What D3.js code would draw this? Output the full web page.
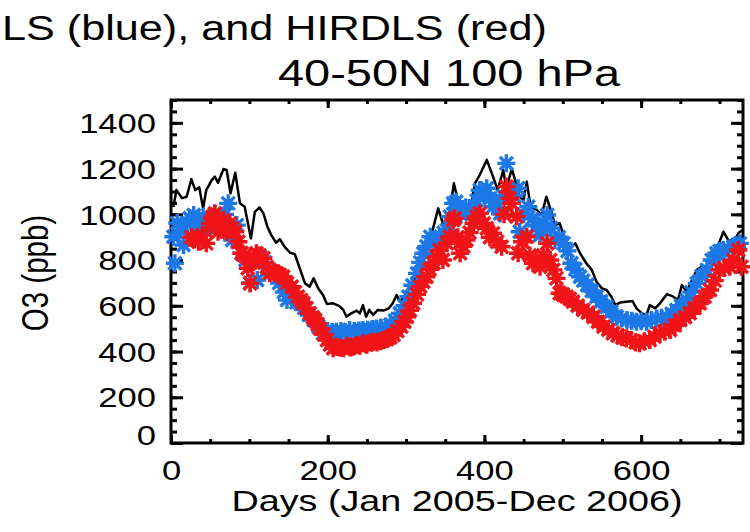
<!DOCTYPE html>
<html>
<head>
<meta charset="utf-8">
<script src="https://cdn.jsdelivr.net/npm/d3@7"></script>
<style>
  body { margin: 0; background: #fff; }
  text { font-family: "Liberation Sans", Arial, sans-serif; fill: #000; }
</style>
</head>
<body>
<div id="chart"></div>
<script>
/* O3 at 100 hPa, 40-50N: black line, MLS (blue), HIRDLS (red) */

const lineDays = [3, 7, 14, 20, 26, 31, 36, 41, 45, 52, 56, 60, 67, 71, 76, 82, 88, 94, 102, 107,
  113, 118, 123, 128, 134, 139, 145, 152, 158, 165, 171, 177, 182, 188, 194, 199, 207, 215, 220, 224,
  230, 237, 241, 245, 249, 253, 258, 264, 271, 278, 283, 288, 292, 298, 305, 310, 317, 322, 326, 331,
  335, 341, 347, 353, 355, 361, 366, 375, 383, 388, 394, 403, 411, 417, 424, 428, 435, 445, 450, 454,
  459, 467, 473, 479, 486, 490, 496, 503, 509, 516, 522, 530, 537, 543, 550, 556, 562, 567, 573, 581,
  589, 594, 601, 607, 611, 618, 624, 633, 641, 647, 652, 658, 664, 671, 677, 684, 690, 696, 705, 711,
  718, 724, 729];
const lineO3 = [1032, 1106, 1071, 1077, 1154, 1106, 1118, 1026, 1106, 1150, 1165, 1138, 1198, 1194, 1092, 1182, 1048, 1033, 895, 1011,
  1030, 1004, 946, 909, 876, 891, 858, 832, 826, 757, 698, 684, 720, 676, 647, 608, 611, 599, 582, 552,
  567, 579, 567, 603, 552, 582, 560, 582, 579, 589, 611, 647, 618, 640, 691, 716, 735, 786, 844, 888,
  946, 1026, 961, 961, 990, 1136, 1063, 1048, 1041, 1136, 1172, 1238, 1165, 1106, 1194, 1114, 1200, 1077, 1063, 1143,
  1033, 1019, 997, 1077, 1004, 953, 961, 888, 851, 873, 830, 786, 757, 705, 676, 669, 640, 603, 614, 618,
  621, 589, 567, 560, 603, 589, 611, 651, 640, 625, 691, 662, 705, 757, 771, 774, 830, 844, 924, 888,
  880, 917, 931];

const mlsDays = [3, 5, 8, 12, 16, 20, 24, 29, 33, 37, 41, 46, 50, 56, 60, 64, 69, 73, 78, 84,
  90, 95, 101, 106, 110, 114, 120, 126, 132, 138, 144, 148, 154, 160, 165, 170, 176, 182, 188, 194,
  200, 206, 211, 217, 222, 228, 234, 240, 245, 251, 257, 262, 268, 274, 280, 286, 292, 298, 303, 308,
  314, 318, 322, 326, 331, 335, 339, 344, 348, 352, 356, 360, 364, 370, 376, 381, 386, 390, 394, 399,
  403, 407, 411, 416, 420, 424, 428, 433, 438, 443, 445, 450, 456, 461, 466, 471, 475, 480, 485, 490,
  495, 501, 506, 511, 516, 522, 526, 531, 537, 543, 549, 556, 562, 569, 575, 582, 588, 594, 600, 607,
  613, 620, 626, 633, 639, 645, 651, 658, 664, 671, 677, 684, 690, 696, 700, 705, 711, 718, 722, 726];
const mlsO3 = [902, 786, 962, 930, 866, 960, 983, 997, 960, 953, 990, 945, 939, 1004, 980, 968, 1000, 1048, 888, 953,
  830, 800, 700, 800, 713, 815, 790, 757, 740, 700, 660, 625, 640, 615, 611, 590, 560, 538, 510, 480,
  490, 485, 487, 490, 485, 494, 490, 492, 494, 495, 498, 501, 505, 510, 516, 535, 567, 600, 640, 690,
  742, 790, 830, 860, 902, 890, 888, 900, 920, 931, 990, 1048, 1055, 1000, 1030, 1010, 1019, 1060, 1106, 1090,
  1114, 1070, 1033, 1050, 1004, 1080, 1223, 1100, 1080, 1114, 924, 1000, 1033, 980, 950, 909, 960, 997, 940, 888,
  900, 873, 840, 786, 760, 727, 710, 691, 665, 640, 620, 596, 575, 552, 545, 538, 535, 530, 532, 530,
  538, 545, 548, 552, 565, 582, 600, 625, 660, 698, 730, 757, 800, 830, 840, 844, 850, 858, 865, 873];

const hirdlsDays = [26, 30, 35, 40, 45, 50, 53, 56, 60, 64, 67, 71, 75, 78, 82, 86, 90, 94, 98, 101,
  105, 109, 113, 118, 122, 126, 131, 135, 139, 143, 148, 154, 158, 162, 166, 169, 173, 177, 181, 184,
  187, 190, 195, 199, 203, 207, 212, 216, 220, 225, 229, 233, 237, 241, 245, 250, 254, 258, 263, 267,
  271, 276, 280, 284, 289, 294, 298, 301, 305, 309, 314, 318, 322, 326, 330, 335, 339, 343, 347, 352,
  356, 360, 362, 366, 369, 373, 377, 381, 386, 390, 394, 399, 403, 407, 411, 416, 422, 425, 428, 432,
  435, 441, 443, 448, 454, 458, 462, 466, 471, 475, 480, 484, 488, 492, 496, 500, 505, 509, 513, 519,
  526, 532, 539, 545, 552, 558, 564, 570, 576, 581, 587, 593, 598, 604, 611, 617, 624, 630, 637, 643,
  650, 656, 662, 668, 675, 681, 688, 694, 700, 706, 713, 718, 724, 728];
const hirdlsO3 = [900, 890, 880, 910, 873, 960, 990, 1004, 924, 950, 975, 924, 960, 940, 924, 880, 830, 820, 764, 698,
  790, 830, 820, 808, 770, 742, 750, 742, 735, 727, 700, 684, 660, 640, 625, 611, 590, 567, 550, 538,
  520, 501, 475, 450, 430, 414, 420, 416, 414, 425, 418, 421, 430, 425, 436, 430, 440, 443, 440, 445,
  450, 455, 462, 472, 490, 509, 530, 552, 580, 611, 650, 684, 705, 727, 760, 786, 815, 844, 800, 873,
  902, 975, 983, 900, 830, 860, 888, 920, 961, 990, 1004, 960, 939, 900, 917, 880, 858, 1000, 1121, 1070,
  1048, 990, 830, 880, 902, 820, 786, 800, 771, 820, 873, 800, 757, 720, 655, 650, 640, 630, 618, 600,
  582, 570, 552, 530, 509, 495, 480, 470, 462, 458, 450, 440, 436, 445, 450, 465, 480, 488, 494, 515,
  538, 550, 567, 590, 611, 640, 669, 710, 757, 765, 771, 800, 844, 771];

const xTicks = [0, 200, 400, 600];
const yTicks = [0, 200, 400, 600, 800, 1000, 1200, 1400];

const width = 750,
      height = 532,
      margin = ({top: 100, right: 7, bottom: 89, left: 171});
const stretch = 1.28;  // the picture's text is wider than it is tall

let svg = d3.select("#chart")
    .append("svg")
    .attr("width", width)
    .attr("height", height);

let x = d3.scaleLinear()
    .domain([0, 730])
    .range([margin.left, width - margin.right]);

let y = d3.scaleLinear()
    .domain([0, 1500])
    .range([height - margin.bottom, margin.top]);

const minorX = d3.range(0, 731, 50),
      minorY = d3.range(0, 1501, 50);

// ticks on all four sides, pointing inward
const addAxis = (axis, transform) => {
    let g = svg.append("g").attr("transform", transform).call(axis);
    g.select(".domain").remove();
    g.selectAll(".tick line").attr("stroke", "#000").attr("stroke-width", 3);
    return g;
};

addAxis(d3.axisBottom(x).tickValues(minorX).tickSize(-4).tickFormat(""), `translate(0,${y(0)})`);
addAxis(d3.axisTop(x).tickValues(minorX).tickSize(-4).tickFormat(""), `translate(0,${y(1500)})`);
addAxis(d3.axisLeft(y).tickValues(minorY).tickSize(-6).tickFormat(""), `translate(${x(0)},0)`);
addAxis(d3.axisRight(y).tickValues(minorY).tickSize(-6).tickFormat(""), `translate(${x(730)},0)`);
addAxis(d3.axisTop(x).tickValues(xTicks).tickSize(-8).tickFormat(""), `translate(0,${y(1500)})`);
addAxis(d3.axisRight(y).tickValues(yTicks).tickSize(-12).tickFormat(""), `translate(${x(730)},0)`);

let xAxis = addAxis(d3.axisBottom(x).tickValues(xTicks).tickSize(-8).tickFormat(d3.format("d")),
    `translate(0,${y(0)})`);
xAxis.selectAll("text")
    .attr("y", 37)
    .attr("dy", 0)
    .attr("font-size", 27)
    .attr("transform", `scale(${stretch},1)`);

let yAxis = addAxis(d3.axisLeft(y).tickValues(yTicks).tickSize(-12).tickFormat(d3.format("d")),
    `translate(${x(0)},0)`);
yAxis.selectAll("text")
    .attr("x", -15 / stretch)
    .attr("dy", d => d === 0 ? "0.05em" : "0.36em")
    .attr("font-size", 27)
    .attr("transform", `scale(${stretch},1)`);

svg.selectAll("g").attr("font-family", null);

// frame
svg.append("rect")
    .attr("x", x(0))
    .attr("y", y(1500))
    .attr("width", x(730) - x(0))
    .attr("height", y(0) - y(1500))
    .attr("fill", "none")
    .attr("stroke", "#000")
    .attr("stroke-width", 3);

// black line
svg.append("path")
    .datum(lineDays.map((d, i) => [d, lineO3[i]]))
    .attr("fill", "none")
    .attr("stroke", "#000")
    .attr("stroke-width", 2.5)
    .attr("stroke-linejoin", "round")
    .attr("d", d3.line().x(d => x(d[0])).y(d => y(d[1])));

// IDL-style asterisk
const r = 9, q = r * 0.72;
const star = `M${-r},0L${r},0M0,${-r}L0,${r}M${-q},${-q}L${q},${q}M${-q},${q}L${q},${-q}`;

const drawStars = (days, vals, color) => {
    svg.append("g")
        .selectAll("path")
        .data(days.map((d, i) => [d, vals[i]]))
        .join("path")
        .attr("transform", d => `translate(${x(d[0])},${y(d[1])})`)
        .attr("d", star)
        .attr("fill", "none")
        .attr("stroke", color)
        .attr("stroke-width", 3.4);
};

drawStars(mlsDays, mlsO3, "#1c78e6");
drawStars(hirdlsDays, hirdlsO3, "#f01418");

// titles and axis labels
svg.append("text")
    .attr("transform", `translate(2,40) scale(1.2,1)`)
    .attr("font-size", 36)
    .text("LS (blue), and HIRDLS (red)");

svg.append("text")
    .attr("transform", `translate(449,86) scale(1.27,1)`)
    .attr("text-anchor", "middle")
    .attr("font-size", 37)
    .text("40-50N 100 hPa");

svg.append("text")
    .attr("transform", `translate(${(x(0) + x(730)) / 2},511) scale(${stretch},1)`)
    .attr("text-anchor", "middle")
    .attr("font-size", 29.5)
    .text("Days (Jan 2005-Dec 2006)");

svg.append("text")
    .attr("transform", `translate(48,273) scale(${stretch},1) rotate(-90)`)
    .attr("text-anchor", "middle")
    .attr("font-size", 29.5)
    .text("O3 (ppb)");
</script>
</body>
</html>
